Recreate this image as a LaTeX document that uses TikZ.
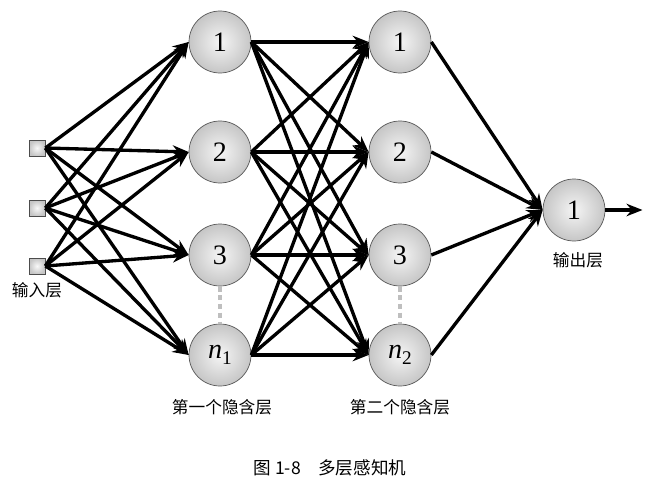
\documentclass[tikz,border=0pt]{standalone}
\usepackage{fontspec}
\setmainfont{Liberation Serif}
\newfontfamily\cjk{Noto Sans CJK SC}
\usetikzlibrary{arrows.meta}

\tikzset{
  neuron/.style={circle, draw=gray!70!black, thin, minimum size=1.24cm, inner sep=0pt,
    inner color=gray!8, outer color=gray!45, font=\fontsize{16}{16}\selectfont},
  inbox/.style={rectangle, draw=gray!60!black, minimum size=0.32cm, inner sep=0pt,
    inner color=gray!5, outer color=gray!45},
  conn/.style={-{Stealth[length=3.2mm,width=2.5mm]}, line width=1.9pt},
  gap/.style={gray!50, line width=2.2pt, dash pattern=on 3pt off 2pt},
  lbl/.style={font=\cjk\fontsize{9.5}{10}\selectfont}
}
\newcommand{\nsub}[1]{\textit{n}\raisebox{-0.45ex}{\fontsize{11}{11}\selectfont #1}}

\begin{document}
\begin{tikzpicture}
    \useasboundingbox (0,0) rectangle (13.16,-9.9);

    % input layer
    \node[inbox] (in1) at (0.74,-2.96) {};
    \node[inbox] (in2) at (0.74,-4.16) {};
    \node[inbox] (in3) at (0.74,-5.32) {};
    \node[lbl] (inlbl) at (0.74,-5.8) {输入层};

    % first hidden layer
    \node[neuron] (ha1) at (4.4,-0.84) {1};
    \node[neuron] (ha2) at (4.4,-3.04) {2};
    \node[neuron] (ha3) at (4.4,-5.10) {3};
    \node[neuron] (ha4) at (4.4,-7.10) {\nsub{1}};
    \node[lbl] (halbl) at (4.44,-8.14) {第一个隐含层};

    % second hidden layer
    \node[neuron] (hb1) at (8.0,-0.84) {1};
    \node[neuron] (hb2) at (8.0,-3.04) {2};
    \node[neuron] (hb3) at (8.0,-5.10) {3};
    \node[neuron] (hb4) at (8.0,-7.10) {\nsub{2}};
    \node[lbl] (hblbl) at (8.0,-8.14) {第二个隐含层};

    % output layer
    \node[neuron] (out) at (11.48,-4.2) {1};
    \node[lbl] (outlbl) at (11.56,-5.2) {输出层};
    \coordinate (outend) at (12.85,-4.2);

    % dotted gaps
    \draw[gap] (ha3) -- (ha4);
    \draw[gap] (hb3) -- (hb4);

    % connections
    \foreach \i in {1,2,3}
      \foreach \j in {1,2,3,4}
        \draw[conn] (in\i.east) -- (ha\j.west);
    \foreach \i in {1,2,3,4}
      \foreach \j in {1,2,3,4}
        \draw[conn] (ha\i.east) -- (hb\j.west);
    \foreach \i in {1,2,3,4}
      \draw[conn] (hb\i.east) -- (out.west);
    \draw[conn] (out) -- (outend);

    % caption
    \node[font=\cjk\fontsize{10}{12}\selectfont] (cap) at (6.6,-9.36) {图 1-8\quad 多层感知机};
\end{tikzpicture}
\end{document}
